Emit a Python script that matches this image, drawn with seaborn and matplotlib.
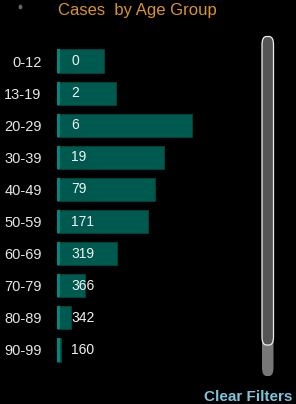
import matplotlib
matplotlib.use("Agg")
import matplotlib.pyplot as plt
import seaborn as sns
import pandas as pd
from matplotlib.patches import Rectangle, FancyBboxPatch, Circle

# ── Data ─────────────────────────────────────────────────────
age_groups = ["0-12", "13-19", "20-29", "30-39", "40-49",
              "50-59", "60-69", "70-79", "80-89", "90-99"]
bar_length = [47, 59, 135, 107, 98, 91, 60, 28, 14, 4]
case_labels = ["0", "2", "6", "19", "79", "171", "319", "366", "342", "160"]

df = pd.DataFrame({"age": age_groups, "length": bar_length, "label": case_labels})

# ── Style ────────────────────────────────────────────────────
sns.set_style("dark")
plt.rcParams["font.family"] = ["Liberation Sans Narrow", "Liberation Sans", "DejaVu Sans"]

BG = "#000000"
BAR = "#00594F"
STRIPE = "#00897A"

W, H = 296, 404
fig = plt.figure(figsize=(W / 100, H / 100), dpi=100, facecolor=BG)

# axes placed in pixel units: 1 data unit = 1 px horizontally
left, top, bottom = 57, 45, 366
ax = fig.add_axes([left / W, (H - bottom) / H, 200 / W, (bottom - top) / H])
ax.set_facecolor(BG)

sns.barplot(data=df, x="length", y="age", color=BAR, width=0.72,
            saturation=1, edgecolor="#00463E", linewidth=0.6, ax=ax)
ax.set_xlim(0, 200)

# lighter stripe on the left edge of each bar
for p in list(ax.patches):
    ax.add_patch(Rectangle((p.get_x(), p.get_y()), min(2.5, p.get_width()),
                           p.get_height(), color=STRIPE, lw=0))

# value labels
for i, lab in enumerate(case_labels):
    ax.text(14, i, lab, color="#F2F2F2", fontsize=10, va="center", ha="left")

ax.set_xlabel("")
ax.set_ylabel("")
ax.set_xticks([])
ax.tick_params(axis="y", length=0, pad=11, labelsize=10.5, colors="#E6E6E6")
ax.grid(False)
for s in ax.spines.values():
    s.set_visible(False)

# title
fig.text(137 / W, 1 - 10 / H, "Cases  by Age Group", color="#D9952A",
         fontsize=12, ha="center", va="center")
fig.patches.append(Circle((20.5 / W, 1 - 7 / H), 1.2 / W,
                          transform=fig.transFigure, color="#666666"))

# scrollbar
track = FancyBboxPatch((262 / W, (H - 376) / H), 11.5 / W, (376 - 36.5) / H,
                       boxstyle="round,pad=0,rounding_size=0.015",
                       transform=fig.transFigure, fc="#777777", ec="none",
                       mutation_aspect=H / W)
thumb = FancyBboxPatch((262 / W, (H - 345) / H), 11.5 / W, (345 - 36.5) / H,
                       boxstyle="round,pad=0,rounding_size=0.015",
                       transform=fig.transFigure, fc="#555555", ec="#EEEEEE",
                       lw=0.9, mutation_aspect=H / W)
fig.patches.extend([track, thumb])

# clear filters link
fig.text(248 / W, 1 - 397 / H, "Clear Filters", color="#7FC4DA",
         fontsize=11, fontweight="bold", ha="center", va="center")

fig.savefig("out.png", dpi=100, facecolor=BG)
